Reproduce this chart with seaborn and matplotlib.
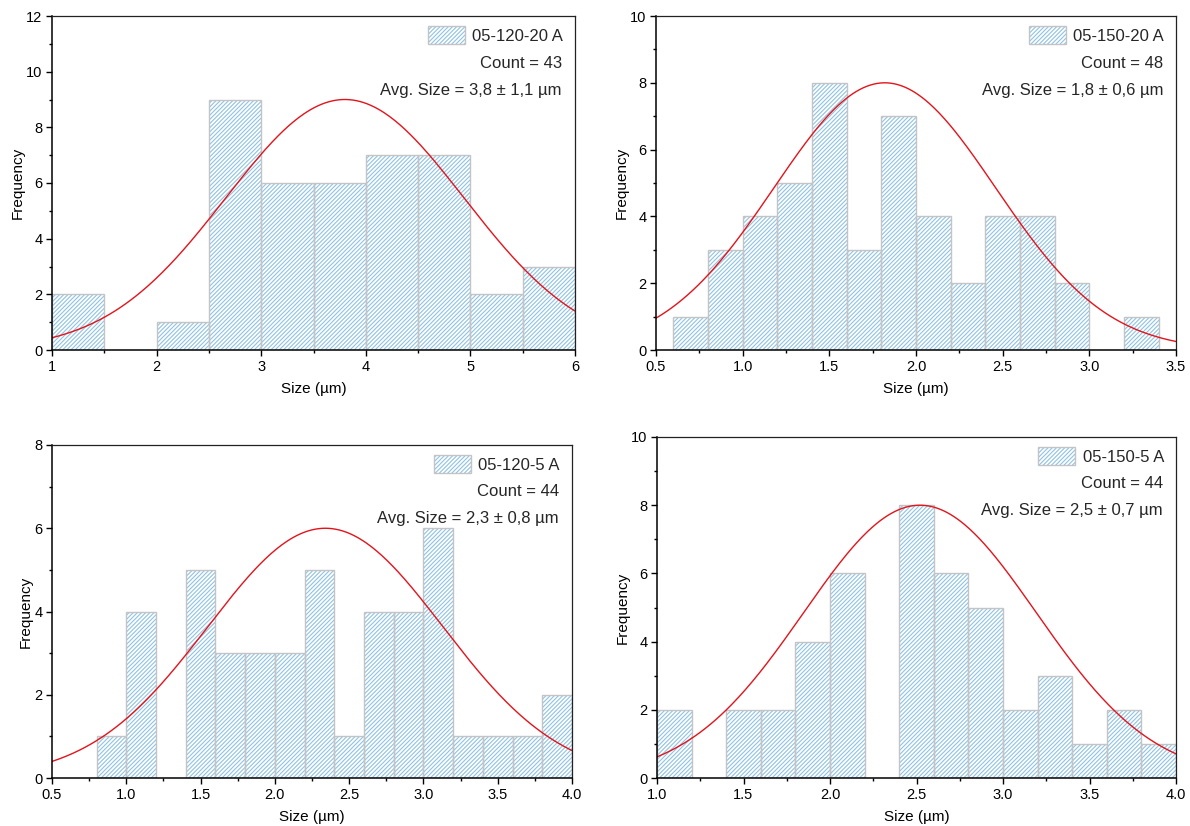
import numpy as np
import pandas as pd
import matplotlib
matplotlib.use("Agg")
import matplotlib.pyplot as plt
import seaborn as sns
from matplotlib.patches import Patch
from matplotlib.ticker import AutoMinorLocator, MultipleLocator, FormatStrFormatter

# sample names and summary numbers shown in each legend
labels = ["05-120-20 A", "05-150-20 A", "05-120-5 A", "05-150-5 A"]
sample_counts = [43, 48, 44, 44]
avg_sizes = ["3,8 ± 1,1", "1,8 ± 0,6", "2,3 ± 0,8", "2,5 ± 0,7"]

# histogram bins (edges) and frequencies
edges_120_20 = [1.0, 1.5, 2.0, 2.5, 3.0, 3.5, 4.0, 4.5, 5.0, 5.5, 6.0]
freq_120_20 = [2, 0, 1, 9, 6, 6, 7, 7, 2, 3]

edges_150_20 = [0.6, 0.8, 1.0, 1.2, 1.4, 1.6, 1.8, 2.0, 2.2, 2.4, 2.6, 2.8, 3.0, 3.2, 3.4]
freq_150_20 = [1, 3, 4, 5, 8, 3, 7, 4, 2, 4, 4, 2, 0, 1]

edges_120_5 = [0.8, 1.0, 1.2, 1.4, 1.6, 1.8, 2.0, 2.2, 2.4, 2.6, 2.8, 3.0, 3.2, 3.4, 3.6, 3.8, 4.0]
freq_120_5 = [1, 4, 0, 5, 3, 3, 3, 5, 1, 4, 4, 6, 1, 1, 1, 2]

edges_150_5 = [1.0, 1.2, 1.4, 1.6, 1.8, 2.0, 2.2, 2.4, 2.6, 2.8, 3.0, 3.2, 3.4, 3.6, 3.8, 4.0]
freq_150_5 = [2, 0, 2, 2, 4, 6, 0, 8, 6, 5, 2, 3, 1, 2, 1]

# normal fit curves: mean, sd, peak height
fit_mean = [3.8, 1.82, 2.34, 2.52]
fit_sd = [1.14, 0.64, 0.79, 0.672]
fit_peak = [9.0, 8.0, 6.0, 8.0]

x_limits = [(1, 6), (0.5, 3.5), (0.5, 4.0), (1.0, 4.0)]
y_max = [12, 10, 8, 10]

all_edges = [edges_120_20, edges_150_20, edges_120_5, edges_150_5]
all_freq = [freq_120_20, freq_150_20, freq_120_5, freq_150_5]

HATCH_BLUE = "#8ec2e4"
EDGE_GREY = "#c4c4c4"
FIT_RED = "#e3131b"
HATCH = "////////"

sns.set_style("ticks")
plt.rcParams["font.family"] = ["Liberation Sans", "DejaVu Sans"]
plt.rcParams["hatch.linewidth"] = 0.8

W, H = 1190, 826
fig = plt.figure(figsize=(W / 100, H / 100), dpi=100)

# axes boxes in pixels: left, top, right, bottom
boxes = [(52, 16, 575, 350), (656, 16, 1176, 350),
         (52, 445, 572, 778), (657, 437, 1176, 778)]

for i, (l, t, r, b) in enumerate(boxes):
    ax = fig.add_axes([l / W, (H - b) / H, (r - l) / W, (b - t) / H])
    edges = list(all_edges[i])
    df = pd.DataFrame({
        "size": [(a + c) / 2 for a, c in zip(edges[:-1], edges[1:])],
        "freq": all_freq[i],
    })

    # hatched fill layer
    sns.histplot(data=df, x="size", weights="freq", bins=edges, ax=ax,
                 color="white", edgecolor=HATCH_BLUE, linewidth=0,
                 hatch=HATCH, alpha=1)
    # grey outline layer
    sns.histplot(data=df, x="size", weights="freq", bins=edges, ax=ax,
                 fill=False, color=EDGE_GREY, linewidth=1.0)
    for p in ax.patches:
        if p.get_height() == 0:
            p.set_visible(False)

    xs = np.linspace(x_limits[i][0], x_limits[i][1], 300)
    ys = fit_peak[i] * np.exp(-0.5 * ((xs - fit_mean[i]) / fit_sd[i]) ** 2)
    sns.lineplot(x=xs, y=ys, ax=ax, color=FIT_RED, linewidth=1.0)

    ax.set_xlim(*x_limits[i])
    ax.set_ylim(0, y_max[i])
    ax.yaxis.set_major_locator(MultipleLocator(2))
    ax.yaxis.set_minor_locator(AutoMinorLocator(2))
    if i == 0:
        ax.xaxis.set_major_locator(MultipleLocator(1))
    else:
        ax.xaxis.set_major_locator(MultipleLocator(0.5))
        ax.xaxis.set_major_formatter(FormatStrFormatter("%.1f"))
    ax.xaxis.set_minor_locator(AutoMinorLocator(2))
    ax.tick_params(which="major", direction="out", length=4, width=1,
                   labelsize=10.5, pad=3, colors="black")
    ax.tick_params(which="minor", direction="out", length=2, width=1,
                   colors="black")

    for side in ["left", "bottom"]:
        ax.spines[side].set_linewidth(1.1)
        ax.spines[side].set_color("black")
    for side in ["top", "right"]:
        ax.spines[side].set_visible(True)
        ax.spines[side].set_linewidth(0.9)
        ax.spines[side].set_color("#222222")

    ax.set_xlabel("Size (µm)", fontsize=11, labelpad=6, color="black")
    ax.set_ylabel("Frequency", fontsize=11, labelpad=1, color="black")

    handle = (Patch(facecolor="white", edgecolor=HATCH_BLUE, hatch=HATCH, linewidth=0),
              Patch(facecolor="none", edgecolor=EDGE_GREY, linewidth=1.0))
    ax_w = r - l
    ax_h = b - t
    ax.legend([handle], [labels[i]], loc="upper right",
              bbox_to_anchor=(1 - 12 / ax_w, 1 - 10 / ax_h),
              frameon=False, fontsize=12, borderpad=0, borderaxespad=0,
              handlelength=2.2, handleheight=1.3, handletextpad=0.45)
    ax.text(1 - 13 / ax_w, 1 - 47 / ax_h, f"Count = {sample_counts[i]}",
            transform=ax.transAxes, ha="right", va="center", fontsize=12)
    ax.text(1 - 13 / ax_w, 1 - 74 / ax_h, f"Avg. Size = {avg_sizes[i]} µm",
            transform=ax.transAxes, ha="right", va="center", fontsize=12)

fig.savefig("out.png", dpi=100)
